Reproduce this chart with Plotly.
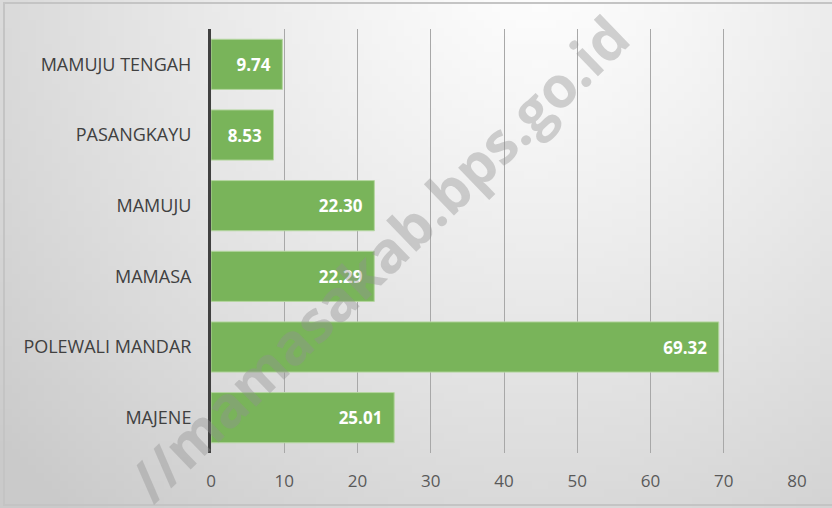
import base64, struct, zlib, math
import plotly.graph_objects as go

# ---- data ----
categories = ["MAJENE", "POLEWALI MANDAR", "MAMASA", "MAMUJU", "PASANGKAYU", "MAMUJU TENGAH"]
values = [25.01, 69.32, 22.29, 22.30, 8.53, 9.74]
tick_values = [0, 10, 20, 30, 40, 50, 60, 70, 80]
watermark = "//mamasakab.bps.go.id"

W, H = 832, 508
L, R, T, B = 211, 35, 29, 55

# ---- gradient background image (radial, light at top centre) ----
def make_png(w, h, func):
    raw = b""
    for j in range(h):
        row = b"\x00"
        for i in range(w):
            v = func(i, j)
            row += bytes((v, v, v))
        raw += row
    def chunk(tag, data):
        c = tag + data
        return struct.pack(">I", len(data)) + c + struct.pack(">I", zlib.crc32(c) & 0xffffffff)
    png = b"\x89PNG\r\n\x1a\n"
    png += chunk(b"IHDR", struct.pack(">IIBBBBB", w, h, 8, 2, 0, 0, 0))
    png += chunk(b"IDAT", zlib.compress(raw, 9))
    png += chunk(b"IEND", b"")
    return "data:image/png;base64," + base64.b64encode(png).decode()

gw, gh = 104, 64
def grad(i, j):
    x = i / (gw - 1) * W
    y = j / (gh - 1) * H
    d = math.hypot(x - 540, (y + 40) * 1.0)
    t = min(d / 740.0, 1.0)
    v = 254 - 52 * (t ** 1.2)
    return max(0, min(255, int(v)))

bg = make_png(gw, gh, grad)

pw = W - L - R
ph = H - T - B
def px2paper_x(px):
    return (px - L) / pw
def px2paper_y(py):
    return (H - B - py) / ph

fig = go.Figure()
fig.add_trace(go.Bar(
    y=categories,
    x=values,
    orientation="h",
    marker=dict(color="#79B45A", line=dict(color="#B5D6A0", width=1)),
    texttemplate="%{x:.2f}\u00a0\u00a0",
    textposition="inside",
    insidetextanchor="end",
    textfont=dict(color="white", size=17, family="Open Sans", weight="bold"),
    cliponaxis=False,
))

fig.update_layout(
    width=W, height=H,
    margin=dict(l=L, r=R, t=T, b=B, pad=0),
    paper_bgcolor="#E0E0E0",
    plot_bgcolor="rgba(0,0,0,0)",
    bargap=0.29,
    showlegend=False,
    font=dict(family="Open Sans", color="#404040"),
    xaxis=dict(
        range=[0, 80],
        tickvals=tick_values,
        showgrid=True,
        gridcolor="#A8A8A8",
        gridwidth=1,
        zeroline=False,
        showline=False,
        tickfont=dict(size=17, color="#595959"),
        ticks="",
        ticklabelstandoff=16,
        fixedrange=True,
    ),
    yaxis=dict(
        showline=True,
        linecolor="#404040",
        linewidth=3,
        showgrid=False,
        ticks="",
        tickfont=dict(size=18, color="#404040"),
        ticklabelstandoff=13,
        fixedrange=True,
    ),
    images=[dict(
        source=bg, xref="paper", yref="paper",
        x=px2paper_x(0), y=px2paper_y(0),
        sizex=W / pw, sizey=H / ph,
        xanchor="left", yanchor="top",
        sizing="stretch", layer="below",
    )],
    shapes=[dict(
        type="rect", xref="paper", yref="paper",
        x0=px2paper_x(4), x1=px2paper_x(W + 2),
        y0=px2paper_y(505), y1=px2paper_y(3),
        line=dict(color="#C4C4C4", width=2),
        fillcolor="rgba(0,0,0,0)", layer="below",
    )],
    annotations=[dict(
        text="<b>" + watermark + "</b>",
        xref="paper", yref="paper",
        x=px2paper_x(378), y=px2paper_y(258),
        xanchor="center", yanchor="middle",
        showarrow=False,
        textangle=-44,
        font=dict(size=57, color="rgba(145,145,145,0.40)", family="Open Sans"),
    )],
)

fig.write_html(
    "out.html",
    config={"displayModeBar": False},
    post_script="document.body.style.margin='0';document.body.style.overflow='hidden';",
)
